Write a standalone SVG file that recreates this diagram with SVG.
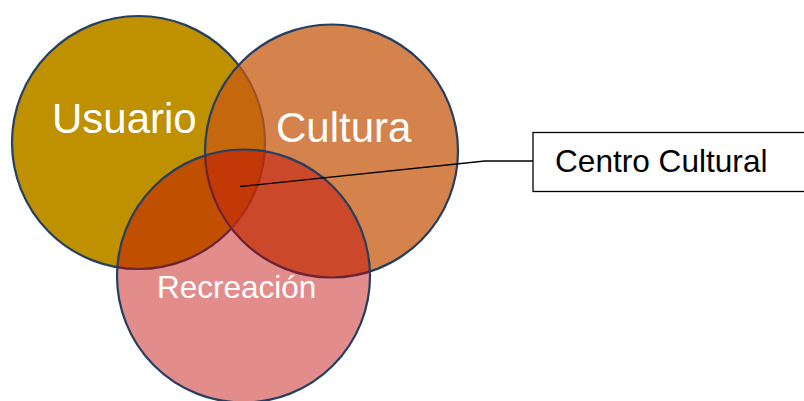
<svg xmlns="http://www.w3.org/2000/svg" width="804" height="401" viewBox="0 0 804 401">
<style>
.c{stroke:#243F60;stroke-width:2.2}
.t{font-family:"Liberation Sans",Arial,sans-serif;fill:#FFFFFF}
.lbl{font-family:"Liberation Sans",Arial,sans-serif;fill:#000000}
</style>
<rect width="804" height="401" fill="#FFFFFF"/>
<g id="usuario">
<circle class="c" cx="138.5" cy="142.5" r="126.5" fill="#BF9000"/>
</g>
<g id="cultura">
<circle class="c" cx="331.5" cy="151" r="126.5" fill="#C55A11" fill-opacity="0.75"/>
</g>
<g id="recreacion">
<circle class="c" cx="243.5" cy="276" r="126.5" fill="#C00000" fill-opacity="0.45"/>
</g>
<g id="labels">
<text class="t" x="52" y="133" font-size="42">Usuario</text>
<text class="t" x="276" y="142" font-size="42">Cultura</text>
<text class="t" x="157" y="298" font-size="31.5">Recreación</text>
</g>
<g id="connectors">
<path d="M240,186.5 L485,161 L533,161" fill="none" stroke="#000000" stroke-width="1.3"/>
</g>
<g id="centro-cultural">
<rect x="533" y="132.5" width="280" height="59" fill="#FFFFFF" stroke="#000000" stroke-width="1.3"/>
<text class="lbl" x="555" y="171.5" font-size="31.6">Centro Cultural</text>
</g>
</svg>
